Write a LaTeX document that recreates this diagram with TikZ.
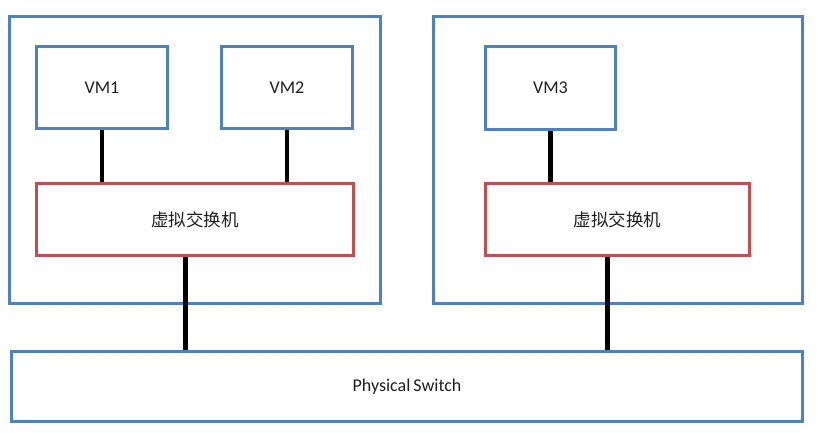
\documentclass[tikz,border=0pt]{standalone}
\usepackage{fontspec}
\setmainfont{Carlito}
\newfontfamily\cjk{Noto Sans CJK SC}
\definecolor{boxblue}{HTML}{4F81BD}
\definecolor{boxred}{HTML}{C0504D}
\definecolor{txt}{HTML}{1F1F1F}
\begin{document}
\begin{tikzpicture}[x=1pt,y=-1pt,
  bluebox/.style={draw=boxblue,line width=3pt,rectangle,inner sep=0pt,anchor=north west,text=txt,font=\fontsize{18}{21}\selectfont},
  redbox/.style={draw=boxred,line width=3pt,rectangle,inner sep=0pt,anchor=north west,text=txt,font=\cjk\fontsize{17.5}{21}\selectfont},
  conn/.style={draw=black,line width=4.5pt}]
\useasboundingbox (0,0) rectangle (823,433);
\node[bluebox,minimum width=371pt,minimum height=287pt] (h1) at (8,15) {};
\node[bluebox,minimum width=369pt,minimum height=287pt] (h2) at (432,15) {};
\node[bluebox,minimum width=131pt,minimum height=82pt] (vm1) at (35,45) {VM1};
\node[bluebox,minimum width=131pt,minimum height=82pt] (vm2) at (220,45) {VM2};
\node[bluebox,minimum width=130pt,minimum height=83pt] (vm3) at (484,45) {VM3};
\node[redbox,minimum width=317pt,minimum height=72pt] (vs1) at (35,182) {虚拟交换机};
\node[redbox,minimum width=264pt,minimum height=72pt] (vs2) at (484,182) {虚拟交换机};
\node[bluebox,minimum width=791pt,minimum height=70pt] (phys) at (10,350) {Physical\,Switch};
\draw[conn] (vm1.south) -- (vm1.south |- vs1.north);
\draw[conn] (vm2.south) -- (vm2.south |- vs1.north);
\draw[conn] (vm3.south) -- (vm3.south |- vs2.north);
\draw[conn] ([xshift=-9.5pt]vs1.south) -- ([xshift=-9.5pt]vs1.south |- phys.north);
\draw[conn] ([xshift=-10pt]vs2.south) -- ([xshift=-10pt]vs2.south |- phys.north);
\end{tikzpicture}
\end{document}
